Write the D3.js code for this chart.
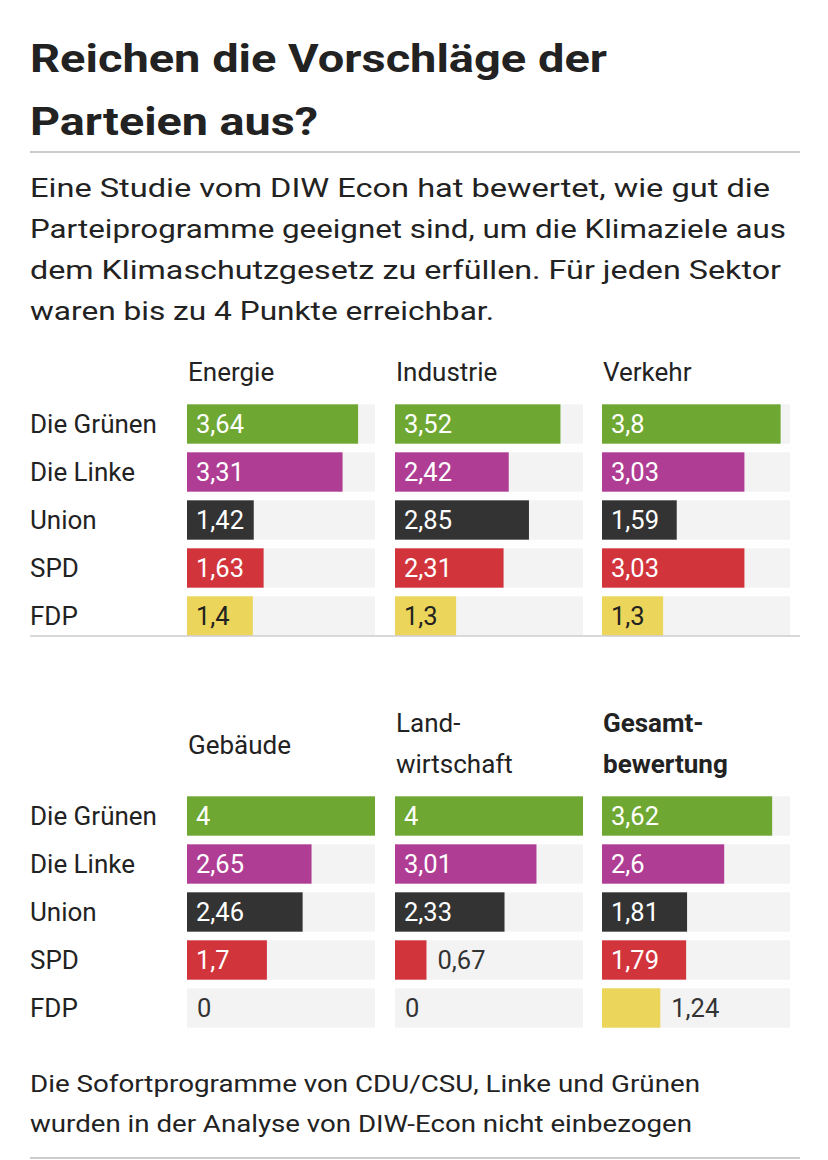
<!DOCTYPE html>
<html><head><meta charset="utf-8">
<script src="https://cdn.jsdelivr.net/npm/d3@7"></script>
<style>body{margin:0;background:#fff}</style>
</head><body><svg id="c" width="828" height="1160"></svg>
<script>
const parties=["Die Grünen","Die Linke","Union","SPD","FDP"];
const colors=["#6ea832","#b03d94","#333333","#d2343c","#ebd55a"];
const sectors=["Energie","Industrie","Verkehr","Gebäude","Land-|wirtschaft","Gesamt-|bewertung"];
const energie=[3.64,3.31,1.42,1.63,1.4];
const industrie=[3.52,2.42,2.85,2.31,1.3];
const verkehr=[3.8,3.03,1.59,3.03,1.3];
const gebaeude=[4,2.65,2.46,1.7,0];
const landwirtschaft=[4,3.01,2.33,0.67,0];
const gesamt=[3.62,2.6,1.81,1.79,1.24];
const series=[energie,industrie,verkehr,gebaeude,landwirtschaft,gesamt];

const svg=d3.select("#c");
const F="Roboto, 'Noto Sans', sans-serif";
const titleLines=[["Reichen die Vorschläge der",577],["Parteien aus?",288]];
svg.append("g").selectAll("text").data(titleLines).join("text")
 .attr("x",30).attr("y",(d,i)=>72+i*63).text(d=>d[0]).attr("textLength",d=>d[1]).attr("lengthAdjust","spacingAndGlyphs")
 .attr("font-family",F).attr("font-weight",700).attr("font-size",38).attr("fill","#222");
svg.append("line").attr("x1",30).attr("x2",800).attr("y1",152).attr("y2",152).attr("stroke","#ccc").attr("stroke-width",2);
const sub=[["Eine Studie vom DIW Econ hat bewertet, wie gut die",740],["Parteiprogramme geeignet sind, um die Klimaziele aus",756],["dem Klimaschutzgesetz zu erfüllen. Für jeden Sektor",751],["waren bis zu 4 Punkte erreichbar.",464]];
svg.append("g").selectAll("text").data(sub).join("text")
 .attr("x",30).attr("y",(d,i)=>197+i*41).text(d=>d[0]).attr("textLength",d=>d[1]).attr("lengthAdjust","spacingAndGlyphs")
 .attr("font-family",F).attr("font-size",26).attr("fill","#222");

const colX=[187,395,602];
const x=d3.scaleLinear().domain([0,4]).range([0,188]);
const y=d3.scaleBand().domain(parties).range([0,240]).paddingInner(0.18).paddingOuter(0.09);
const blocks=[{top:400},{top:792}];
series.forEach((vals,si)=>{
 const b=Math.floor(si/3), c=si%3, x0=colX[c], top=blocks[b].top;
 const name=sectors[si].split("|");
 const bold=si===5;
 const hy=name.length===1?(b===0?381:754):null;
 name.forEach((t,k)=>svg.append("text").attr("x",x0+1).attr("y",hy!==null?hy:732+k*41).text(t)
   .attr("font-family",F).attr("font-size",26).attr("font-weight",bold?700:400).attr("fill","#222"));
 const g=svg.append("g").attr("transform",`translate(${x0},${top})`);
 parties.forEach((p,i)=>{
  const v=vals[i], yy=y(p), h=y.bandwidth();
  g.append("rect").attr("x",0).attr("y",yy).attr("width",x(4)).attr("height",h).attr("fill","#f3f3f3");
  g.append("rect").attr("x",0).attr("y",yy).attr("width",x(v)).attr("height",h).attr("fill",colors[i]);
  const inside=v>=1.25;
  const lbl=String(v).replace(".",",");
  g.append("text").attr("x",inside?9:(v===0?10:x(v)+11)).attr("y",yy+h/2+9).text(lbl)
   .attr("font-family",F).attr("font-size",25.5)
   .attr("fill",inside?(i===4?"#222":"#fff"):"#333");
 });
});
[0,1].forEach(b=>{
 svg.append("g").attr("transform",`translate(30,${blocks[b].top})`).selectAll("text").data(parties).join("text")
  .attr("x",0).attr("y",d=>y(d)+y.bandwidth()/2+9).text(d=>d).attr("font-family",F).attr("font-size",26).attr("fill","#222");
});
svg.append("line").attr("x1",30).attr("x2",800).attr("y1",636).attr("y2",636).attr("stroke","#ccc").attr("stroke-width",1.5);
const foot=[["Die Sofortprogramme von CDU/CSU, Linke und Grünen",670],["wurden in der Analyse von DIW-Econ nicht einbezogen",662]];
svg.append("g").selectAll("text").data(foot).join("text")
 .attr("x",30).attr("y",(d,i)=>1092+i*40).text(d=>d[0]).attr("textLength",d=>d[1]).attr("lengthAdjust","spacingAndGlyphs")
 .attr("font-family",F).attr("font-size",23).attr("fill","#222");
svg.append("line").attr("x1",30).attr("x2",800).attr("y1",1158).attr("y2",1158).attr("stroke","#ccc").attr("stroke-width",2);
</script></body></html>
